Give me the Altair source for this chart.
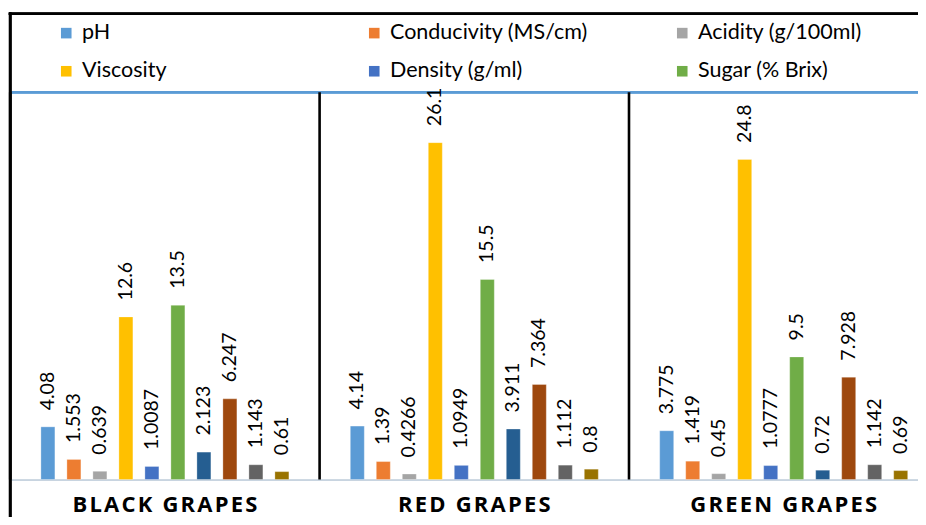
import altair as alt
import pandas as pd

# ---- data ----
groups = ["BLACK GRAPES", "RED GRAPES", "GREEN GRAPES"]
series = [
    "pH", "Conducivity (MS/cm)", "Acidity (g/100ml)", "Viscosity",
    "Density (g/ml)", "Sugar (% Brix)", "Parameter 7", "Parameter 8",
    "Parameter 9", "Parameter 10",
]
black_values = [4.08, 1.553, 0.639, 12.6, 1.0087, 13.5, 2.123, 6.247, 1.143, 0.61]
red_values = [4.14, 1.39, 0.4266, 26.1, 1.0949, 15.5, 3.911, 7.364, 1.112, 0.8]
green_values = [3.775, 1.419, 0.45, 24.8, 1.0777, 9.5, 0.72, 7.928, 1.142, 0.69]
legend_shown = series[:6]
y_max = 30

colors = ["#5B9BD5", "#ED7D31", "#A5A5A5", "#FFC000", "#4472C4",
          "#70AD47", "#255E91", "#9E480E", "#636363", "#997300"]

rows = []
for g, vals in zip(groups, [black_values, red_values, green_values]):
    for s, v in zip(series, vals):
        rows.append({"group": g, "series": s, "value": v, "label": str(v)})
df = pd.DataFrame(rows)
gdf = pd.DataFrame({"group": groups, "top": [y_max] * 3, "zero": [0] * 3})

W, H = 910, 509
X0 = 2.2
GW = 309.4
Y_BASE, Y_TOP = 471.5, 84.3

x_scale = alt.Scale(domain=groups, range=[X0, X0 + 3 * GW], paddingInner=0, paddingOuter=0)
y_scale = alt.Scale(domain=[0, y_max], range=[Y_BASE, Y_TOP], nice=False)
xo_scale = alt.Scale(domain=series, paddingInner=0, paddingOuter=0.95)

X = alt.X("group:N", scale=x_scale, axis=None, sort=groups)
XO = alt.XOffset("series:N", scale=xo_scale, sort=series)
Y = alt.Y("value:Q", scale=y_scale, axis=None)

bars = alt.Chart(df).mark_bar(width=14, stroke="white", strokeWidth=0.5, strokeOpacity=0.6).encode(
    x=X, xOffset=XO, y=Y,
    color=alt.Color(
        "series:N",
        scale=alt.Scale(domain=series, range=colors),
        sort=series,
        legend=alt.Legend(
            title=None, orient="none", legendX=47.5, legendY=14, padding=0,
            direction="horizontal", columns=3, gridAlign="all",
            columnPadding=83, rowPadding=15.5,
            symbolType="square", symbolSize=112, symbolStrokeWidth=0,
            symbolOpacity=1, labelFont="Lato", labelFontSize=21.5,
            labelColor="#000000", labelOffset=5, labelLimit=400,
            values=legend_shown,
        ),
    ),
)

labels = alt.Chart(df).mark_text(
    angle=270, align="left", baseline="middle", dx=16.5,
    font="Lato", fontSize=19.5, color="#000000",
).encode(x=X, xOffset=XO, y=Y, text="label:N")

# frame, separators, lines
top_frame = alt.Chart(gdf).mark_rule(color="#000000", strokeWidth=2.5).encode(
    x=alt.value(0.8), x2=alt.value(W), y=alt.value(5.7)
)
left_frame = alt.Chart(gdf).mark_rule(color="#000000", strokeWidth=2.6).encode(
    x=alt.value(X0), y=alt.value(4.5), y2=alt.value(H)
)
separators = alt.Chart(gdf).mark_rule(color="#000000", strokeWidth=2.6).encode(
    x=alt.X("group:N", scale=x_scale, axis=None, sort=groups, bandPosition=0),
    y=alt.Y("top:Q", scale=y_scale, axis=None), y2="zero:Q",
)
blue_line = alt.Chart(gdf).mark_rule(color="#5B9BD5", strokeWidth=2.5).encode(
    x=alt.value(X0 + 1), x2=alt.value(W), y=alt.Y("top:Q", scale=y_scale, axis=None)
)
base_line = alt.Chart(gdf).mark_rule(color="#C8D4E0", strokeWidth=1.6).encode(
    x=alt.value(X0 + 1), x2=alt.value(W), y=alt.value(Y_BASE + 0.8)
)

cat_labels = alt.Chart(gdf).transform_calculate(
    spaced="join(split(datum.group, ''), '\u200a')"
).mark_text(
    baseline="alphabetic", align="center", font="Open Sans",
    fontWeight="bold", fontSize=22, color="#000000",
).encode(
    x=alt.X("group:N", scale=x_scale, axis=None, sort=groups),
    y=alt.value(503.5),
    text="spaced:N",
)

chart = alt.layer(
    blue_line, base_line, bars, labels, separators, top_frame, left_frame, cat_labels
).properties(
    width=W, height=H, autosize=alt.AutoSizeParams(type="none"),
    padding={"left": 0, "top": 0, "right": 0, "bottom": 0},
).configure_view(stroke=None)

chart.save("out.html", embed_options={"renderer": "svg", "actions": False})
